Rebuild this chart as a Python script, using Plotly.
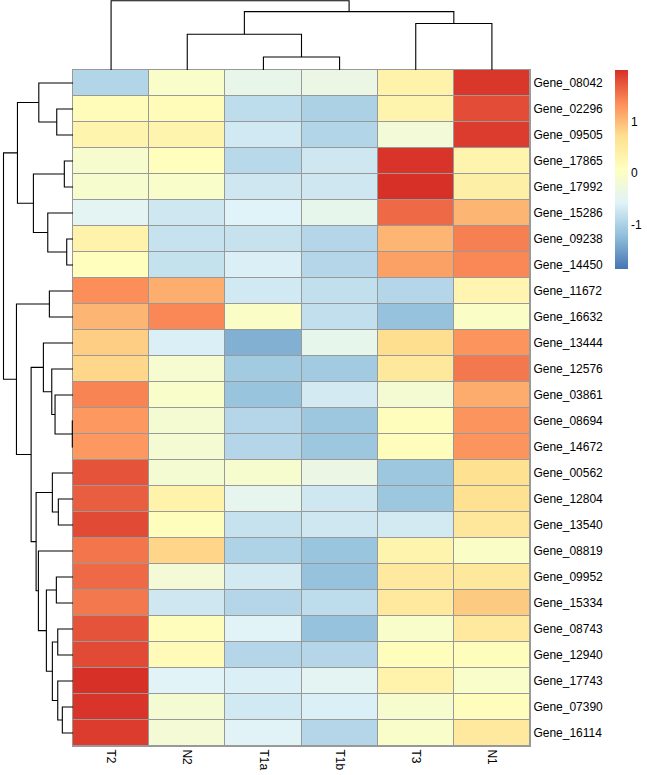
import plotly.graph_objects as go

samples = ["T2", "N2", "T1a", "T1b", "T3", "N1"]
genes = ["Gene_08042", "Gene_02296", "Gene_09505", "Gene_17865", "Gene_17992",
         "Gene_15286", "Gene_09238", "Gene_14450", "Gene_11672", "Gene_16632",
         "Gene_13444", "Gene_12576", "Gene_03861", "Gene_08694", "Gene_14672",
         "Gene_00562", "Gene_12804", "Gene_13540", "Gene_08819", "Gene_09952",
         "Gene_15334", "Gene_08743", "Gene_12940", "Gene_17743", "Gene_07390",
         "Gene_16114"]

# z-scores per gene (rows) in sample order above
values = [
    [-0.95, -0.05, -0.40, -0.35, 0.35, 1.95],
    [0.15, 0.15, -0.85, -1.00, 0.30, 1.80],
    [0.30, 0.30, -0.70, -0.95, -0.20, 1.92],
    [-0.10, 0.10, -0.90, -0.72, 1.97, 0.30],
    [-0.10, -0.05, -0.72, -0.72, 2.00, 0.40],
    [-0.50, -0.72, -0.57, -0.42, 1.60, 1.05],
    [0.35, -0.78, -0.78, -0.93, 1.05, 1.45],
    [0.10, -0.80, -0.62, -0.93, 1.20, 1.40],
    [1.35, 1.10, -0.70, -0.82, -0.93, 0.28],
    [1.05, 1.40, -0.02, -0.82, -1.18, -0.02],
    [0.85, -0.62, -1.35, -0.42, 0.72, 1.30],
    [0.78, -0.12, -1.08, -1.08, 0.55, 1.50],
    [1.42, -0.05, -1.15, -0.68, -0.15, 1.12],
    [1.27, -0.15, -0.93, -1.12, 0.12, 1.30],
    [1.27, -0.15, -0.93, -1.12, 0.12, 1.30],
    [1.75, -0.15, -0.10, -0.35, -1.12, 0.70],
    [1.68, 0.35, -0.45, -0.72, -1.12, 0.70],
    [1.82, 0.12, -0.78, -0.72, -0.68, 0.58],
    [1.52, 0.80, -0.97, -1.14, 0.30, -0.02],
    [1.60, -0.18, -0.68, -1.18, 0.52, 0.55],
    [1.50, -0.72, -0.93, -0.85, 0.52, 0.88],
    [1.75, 0.12, -0.55, -1.18, -0.05, 0.52],
    [1.82, 0.18, -0.93, -0.93, 0.12, 0.12],
    [2.00, -0.55, -0.62, -0.50, 0.35, -0.05],
    [1.97, -0.15, -0.70, -0.62, -0.10, 0.12],
    [1.92, -0.18, -0.55, -0.93, -0.05, 0.52],
]

# hierarchical clustering merges: (left id, right id, height); ids >= n refer to earlier merges
row_merges = [
    (1, 2, 16.3), (0, 26, 34.3), (3, 4, 8.7), (6, 7, 6.3), (5, 29, 25.3),
    (28, 30, 39.7), (27, 31, 55.7), (8, 9, 23.7), (13, 14, 0.7), (12, 34, 18.0),
    (11, 35, 21.3), (10, 36, 29.7), (16, 17, 14.7), (15, 38, 20.7), (19, 20, 16.7),
    (21, 22, 15.3), (24, 25, 10.7), (23, 42, 15.3), (41, 43, 20.7), (40, 44, 26.7),
    (18, 45, 34.7), (39, 46, 37.0), (37, 47, 42.0), (33, 48, 56.7), (32, 49, 69.7),
]
col_merges = [
    (2, 3, 13.0), (1, 6, 36.0), (4, 5, 46.7), (7, 8, 58.7), (0, 9, 69.7),
]

palette = ["#4575B4", "#91BFDB", "#E0F3F8", "#FFFFBF", "#FEE090", "#FC8D59", "#D73027"]
zmin, zmax = -1.86, 2.0
border_color = "#999999"

W, H = 647, 775
hm_left, hm_right, hm_top, hm_bottom = 73, 530, 70, 746


def dendro_segments(merges, n):
    pos = {i: float(i) for i in range(n)}
    hgt = {i: 0.0 for i in range(n)}
    lead, height = [], []
    for k, (a, b, h) in enumerate(merges):
        pa, pb = pos[a], pos[b]
        lead += [pa, pa, pb, pb, None]
        height += [hgt[a], h, h, hgt[b], None]
        pos[n + k] = (pa + pb) / 2
        hgt[n + k] = h
    return lead, height


n_rows, n_cols = len(genes), len(samples)
col_lead, col_h = dendro_segments(col_merges, n_cols)
row_lead, row_h = dendro_segments(row_merges, n_rows)

colorscale = [[i / (len(palette) - 1), c] for i, c in enumerate(palette)]

fig = go.Figure()
# grey backing so the 1px gaps between cells read as cell borders
fig.add_trace(go.Heatmap(
    z=[[0] * n_cols for _ in range(n_rows)], x=list(range(n_cols)), y=list(range(n_rows)),
    colorscale=[[0, border_color], [1, border_color]], showscale=False, hoverinfo="skip",
))
fig.add_trace(go.Heatmap(
    z=values, x=list(range(n_cols)), y=list(range(n_rows)),
    colorscale=colorscale, zmin=zmin, zmax=zmax, xgap=1, ygap=1,
    colorbar=dict(
        x=615 / W, xanchor="left", y=1 - hm_top / H, yanchor="top",
        len=199 / H, lenmode="fraction", thickness=13, outlinewidth=0,
        xpad=0, ypad=0, tickvals=[-1, 0, 1], ticktext=["-1", "0", "1"],
        ticks="", tickfont=dict(family="Liberation Sans, Arial", size=12, color="#000"),
    ),
    hovertemplate="%{z}<extra></extra>",
))
fig.add_trace(go.Scatter(x=col_lead, y=col_h, mode="lines", xaxis="x2", yaxis="y2",
                         line=dict(color="black", width=1.1), hoverinfo="skip", showlegend=False))
fig.add_trace(go.Scatter(x=row_h, y=row_lead, mode="lines", xaxis="x3", yaxis="y3",
                         line=dict(color="black", width=1.1), hoverinfo="skip", showlegend=False))

col_root = col_merges[-1][2]
row_root = row_merges[-1][2]
x_dom = [hm_left / W, hm_right / W]
y_dom = [1 - hm_bottom / H, 1 - hm_top / H]
font = dict(family="Liberation Sans, Arial", size=12, color="#000")

fig.update_layout(
    width=W, height=H, margin=dict(l=0, r=0, t=0, b=0),
    paper_bgcolor="white", plot_bgcolor="white", showlegend=False,
    font=font,
    xaxis=dict(domain=x_dom, range=[-0.5, n_cols - 0.5], tickvals=list(range(n_cols)),
               ticktext=samples, tickangle=90, ticks="", showgrid=False, zeroline=False,
               showline=True, mirror=True, linecolor=border_color, linewidth=1,
               tickfont=font, automargin=False),
    yaxis=dict(domain=y_dom, range=[n_rows - 0.5, -0.5], tickvals=list(range(n_rows)),
               ticktext=genes, side="right", ticks="", showgrid=False, zeroline=False,
               showline=True, mirror=True, linecolor=border_color, linewidth=1,
               tickfont=font, automargin=False),
    xaxis2=dict(domain=x_dom, range=[-0.5, n_cols - 0.5], anchor="y2", visible=False),
    yaxis2=dict(domain=[1 - hm_top / H, 1], range=[0, col_root * 70 / 69.3], anchor="x2", visible=False),
    xaxis3=dict(domain=[0, hm_left / W], range=[row_root * 73 / 69.5, 0], anchor="y3", visible=False),
    yaxis3=dict(domain=y_dom, range=[n_rows - 0.5, -0.5], anchor="x3", visible=False),
)

fig.write_html("out.html", config={"displayModeBar": False},
               post_script="document.body.style.margin='0';")
